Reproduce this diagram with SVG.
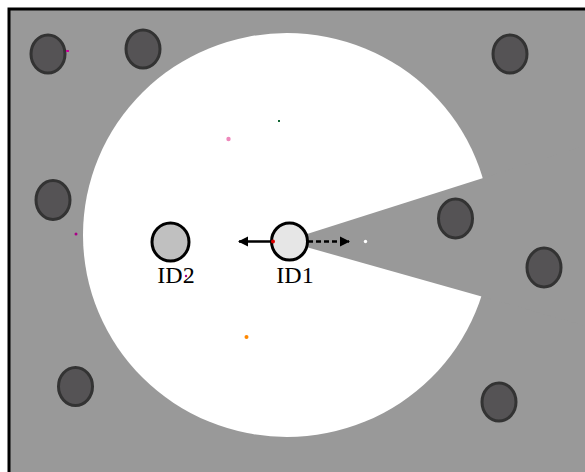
<svg xmlns="http://www.w3.org/2000/svg" width="585" height="472" viewBox="0 0 585 472">
  <defs>
    <style>
      .obstacle { fill: #555355; stroke: #333333; stroke-width: 3; }
      .agent { stroke: #000000; stroke-width: 3; stroke-linejoin: round; }
      .label { font-family: "Liberation Serif", "Times New Roman", serif; font-size: 24px; fill: #000000; text-anchor: middle; }
      .edge { stroke: #000000; stroke-width: 2.5; fill: none; }
    </style>
    <marker id="head" viewBox="0 0 10 10" refX="9" refY="5" markerWidth="4.2" markerHeight="4.2" orient="auto-start-reverse">
      <path d="M0,0 L10,5 L0,10 Z" fill="#000000"/>
    </marker>
  </defs>

  <!-- field background with frame -->
  <rect x="0" y="0" width="585" height="472" fill="#ffffff"/>
  <rect x="9" y="9" width="580" height="470" fill="#999999" stroke="#000000" stroke-width="3"/>

  <!-- visibility region: disc with a wedge cut out -->
  <ellipse cx="287" cy="235" rx="204" ry="202" fill="#ffffff"/>
  <polygon points="285,241 600,141 600,330" fill="#999999"/>

  <!-- obstacles -->
  <g id="obs1"><ellipse class="obstacle" cx="48" cy="54" rx="17" ry="19"/></g>
  <g id="obs2"><ellipse class="obstacle" cx="143" cy="49" rx="17" ry="19"/></g>
  <g id="obs3"><ellipse class="obstacle" cx="510" cy="54" rx="17" ry="19"/></g>
  <g id="obs4"><ellipse class="obstacle" cx="53" cy="200" rx="17" ry="19.5"/></g>
  <g id="obs5"><ellipse class="obstacle" cx="455.5" cy="218.5" rx="17" ry="19.5"/></g>
  <g id="obs6"><ellipse class="obstacle" cx="544" cy="267.5" rx="17" ry="19.5"/></g>
  <g id="obs7"><ellipse class="obstacle" cx="75.5" cy="386.5" rx="17" ry="19"/></g>
  <g id="obs8"><ellipse class="obstacle" cx="499" cy="402" rx="17" ry="19"/></g>

  <!-- connectors -->
  <g id="connectors">
    <line class="edge" x1="272" y1="241.5" x2="239" y2="241.5" marker-end="url(#head)"/>
    <line class="edge" x1="308" y1="241.5" x2="349" y2="241.5" stroke-dasharray="5,3" marker-end="url(#head)"/>
  </g>

  <!-- agents -->
  <g id="ID2">
    <ellipse class="agent" fill="#c0c0c0" cx="170.5" cy="242" rx="18.5" ry="19"/>
    <text class="label" x="176" y="283">ID2</text>
  </g>
  <g id="ID1">
    <ellipse class="agent" fill="#e6e6e6" cx="289.5" cy="241.5" rx="18" ry="18.5"/>
    <text class="label" x="295" y="283">ID1</text>
  </g>

  <!-- scattered markers -->
  <rect x="66" y="50" width="3" height="2" fill="#cc0099"/>
  <circle cx="228.5" cy="139" r="2.2" fill="#ee88bb"/>
  <rect x="278" y="120" width="2" height="2" fill="#116633"/>
  <circle cx="76" cy="234" r="1.5" fill="#aa0088"/>
  <circle cx="246.5" cy="337" r="2" fill="#ff8800"/>
  <circle cx="186" cy="276" r="1.2" fill="#aa0088"/>
  <circle cx="273" cy="241.5" r="2" fill="#dd0000"/>
  <circle cx="365.5" cy="241.5" r="1.7" fill="#ffffff"/>
</svg>
